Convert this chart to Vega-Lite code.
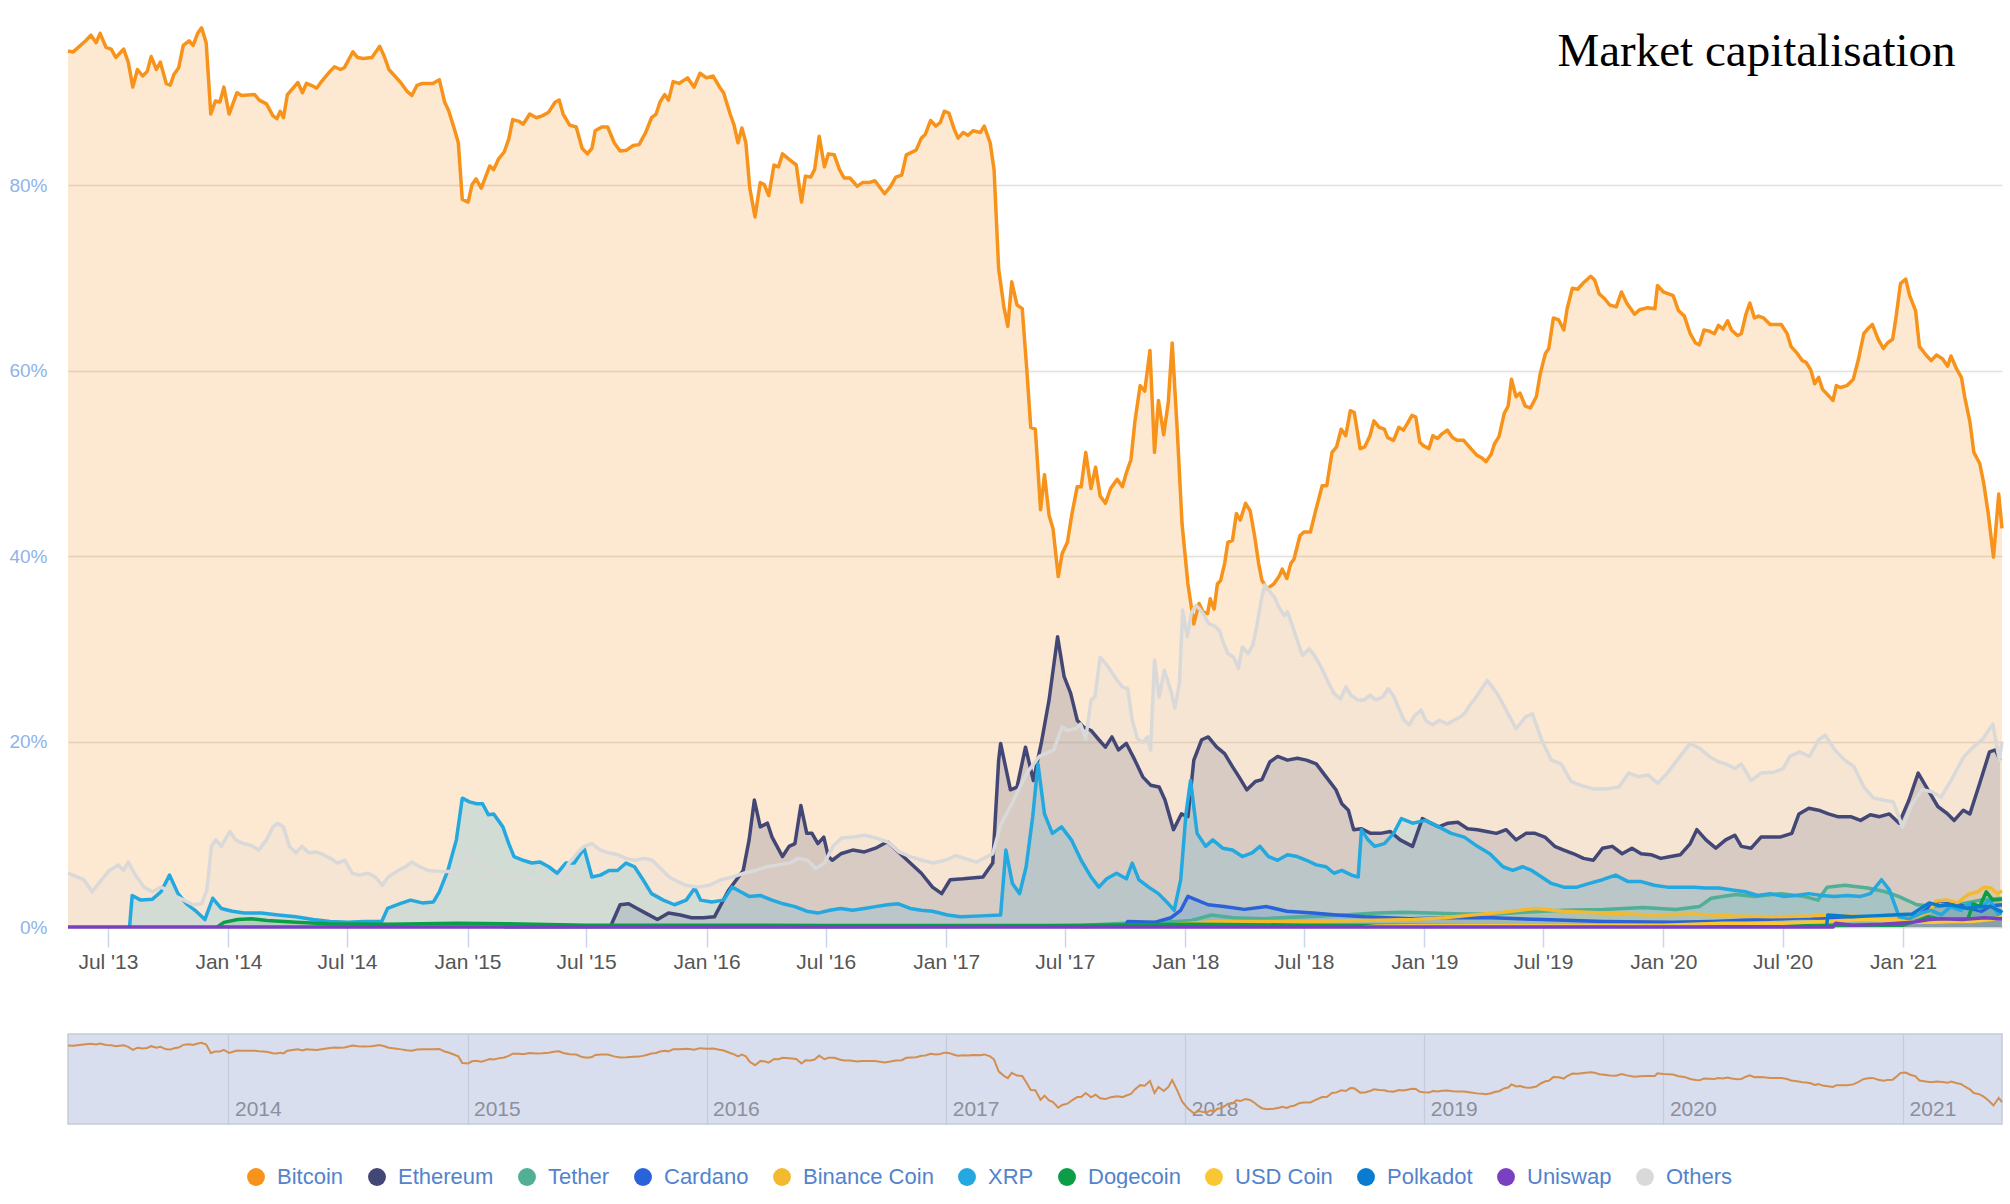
{
"$schema": "https://vega.github.io/schema/vega-lite/v6.json",
"background": "white",
"padding": {"left": 8, "top": 0, "right": 5, "bottom": 0},
"config": {
  "font": "Liberation Sans",
  "view": {"stroke": null},
  "axis": {"labelFont": "Liberation Sans"},
  "legend": {"labelFont": "Liberation Sans"}
},
"datasets": {
"mc": [
{"d":"2013-05-01","c":"Bitcoin","v":94.5},{"d":"2013-05-09","c":"Bitcoin","v":94.4},{"d":"2013-05-28","c":"Bitcoin","v":95.6},{"d":"2013-06-05","c":"Bitcoin","v":96.2},{"d":"2013-06-13","c":"Bitcoin","v":95.4},{"d":"2013-06-19","c":"Bitcoin","v":96.4},{"d":"2013-06-28","c":"Bitcoin","v":94.9},{"d":"2013-07-06","c":"Bitcoin","v":94.7},{"d":"2013-07-13","c":"Bitcoin","v":93.8},{"d":"2013-07-25","c":"Bitcoin","v":94.7},{"d":"2013-08-01","c":"Bitcoin","v":93.3},{"d":"2013-08-08","c":"Bitcoin","v":90.6},{"d":"2013-08-15","c":"Bitcoin","v":92.5},{"d":"2013-08-23","c":"Bitcoin","v":91.8},{"d":"2013-08-30","c":"Bitcoin","v":92.3},{"d":"2013-09-05","c":"Bitcoin","v":93.9},{"d":"2013-09-13","c":"Bitcoin","v":92.5},{"d":"2013-09-19","c":"Bitcoin","v":93.3},{"d":"2013-09-28","c":"Bitcoin","v":91.0},{"d":"2013-10-04","c":"Bitcoin","v":90.8},{"d":"2013-10-10","c":"Bitcoin","v":92.0},{"d":"2013-10-17","c":"Bitcoin","v":92.7},{"d":"2013-10-24","c":"Bitcoin","v":95.1},{"d":"2013-11-02","c":"Bitcoin","v":95.6},{"d":"2013-11-08","c":"Bitcoin","v":95.1},{"d":"2013-11-15","c":"Bitcoin","v":96.4},{"d":"2013-11-21","c":"Bitcoin","v":97.0},{"d":"2013-11-28","c":"Bitcoin","v":95.4},{"d":"2013-12-05","c":"Bitcoin","v":87.7},{"d":"2013-12-12","c":"Bitcoin","v":89.1},{"d":"2013-12-19","c":"Bitcoin","v":89.0},{"d":"2013-12-25","c":"Bitcoin","v":90.6},{"d":"2014-01-02","c":"Bitcoin","v":87.7},{"d":"2014-01-14","c":"Bitcoin","v":90.0},{"d":"2014-01-21","c":"Bitcoin","v":89.7},{"d":"2014-02-10","c":"Bitcoin","v":89.8},{"d":"2014-02-17","c":"Bitcoin","v":89.2},{"d":"2014-02-28","c":"Bitcoin","v":88.8},{"d":"2014-03-10","c":"Bitcoin","v":87.5},{"d":"2014-03-16","c":"Bitcoin","v":87.2},{"d":"2014-03-21","c":"Bitcoin","v":88.0},{"d":"2014-03-26","c":"Bitcoin","v":87.3},{"d":"2014-04-01","c":"Bitcoin","v":89.8},{"d":"2014-04-11","c":"Bitcoin","v":90.6},{"d":"2014-04-17","c":"Bitcoin","v":91.1},{"d":"2014-04-24","c":"Bitcoin","v":90.0},{"d":"2014-04-30","c":"Bitcoin","v":91.0},{"d":"2014-05-10","c":"Bitcoin","v":90.7},{"d":"2014-05-16","c":"Bitcoin","v":90.5},{"d":"2014-05-23","c":"Bitcoin","v":91.2},{"d":"2014-06-05","c":"Bitcoin","v":92.3},{"d":"2014-06-12","c":"Bitcoin","v":92.8},{"d":"2014-06-21","c":"Bitcoin","v":92.5},{"d":"2014-06-27","c":"Bitcoin","v":92.7},{"d":"2014-07-10","c":"Bitcoin","v":94.4},{"d":"2014-07-17","c":"Bitcoin","v":93.8},{"d":"2014-07-26","c":"Bitcoin","v":93.7},{"d":"2014-08-08","c":"Bitcoin","v":93.8},{"d":"2014-08-20","c":"Bitcoin","v":95.0},{"d":"2014-08-27","c":"Bitcoin","v":93.9},{"d":"2014-09-03","c":"Bitcoin","v":92.5},{"d":"2014-09-12","c":"Bitcoin","v":91.8},{"d":"2014-09-22","c":"Bitcoin","v":91.0},{"d":"2014-09-30","c":"Bitcoin","v":90.2},{"d":"2014-10-08","c":"Bitcoin","v":89.7},{"d":"2014-10-16","c":"Bitcoin","v":90.8},{"d":"2014-10-24","c":"Bitcoin","v":91.0},{"d":"2014-11-09","c":"Bitcoin","v":91.0},{"d":"2014-11-19","c":"Bitcoin","v":91.4},{"d":"2014-11-27","c":"Bitcoin","v":89.0},{"d":"2014-12-03","c":"Bitcoin","v":88.1},{"d":"2014-12-11","c":"Bitcoin","v":86.3},{"d":"2014-12-18","c":"Bitcoin","v":84.6},{"d":"2014-12-24","c":"Bitcoin","v":78.5},{"d":"2015-01-02","c":"Bitcoin","v":78.2},{"d":"2015-01-08","c":"Bitcoin","v":80.1},{"d":"2015-01-14","c":"Bitcoin","v":80.7},{"d":"2015-01-22","c":"Bitcoin","v":79.7},{"d":"2015-01-29","c":"Bitcoin","v":81.0},{"d":"2015-02-04","c":"Bitcoin","v":82.1},{"d":"2015-02-10","c":"Bitcoin","v":81.7},{"d":"2015-02-17","c":"Bitcoin","v":82.8},{"d":"2015-02-26","c":"Bitcoin","v":83.6},{"d":"2015-03-05","c":"Bitcoin","v":85.0},{"d":"2015-03-11","c":"Bitcoin","v":87.1},{"d":"2015-03-21","c":"Bitcoin","v":86.9},{"d":"2015-03-27","c":"Bitcoin","v":86.6},{"d":"2015-04-06","c":"Bitcoin","v":87.7},{"d":"2015-04-16","c":"Bitcoin","v":87.3},{"d":"2015-04-25","c":"Bitcoin","v":87.5},{"d":"2015-05-05","c":"Bitcoin","v":87.9},{"d":"2015-05-15","c":"Bitcoin","v":89.0},{"d":"2015-05-21","c":"Bitcoin","v":89.2},{"d":"2015-05-27","c":"Bitcoin","v":87.7},{"d":"2015-06-06","c":"Bitcoin","v":86.5},{"d":"2015-06-16","c":"Bitcoin","v":86.3},{"d":"2015-06-25","c":"Bitcoin","v":84.0},{"d":"2015-07-03","c":"Bitcoin","v":83.4},{"d":"2015-07-10","c":"Bitcoin","v":84.0},{"d":"2015-07-15","c":"Bitcoin","v":85.9},{"d":"2015-07-25","c":"Bitcoin","v":86.3},{"d":"2015-08-03","c":"Bitcoin","v":86.3},{"d":"2015-08-13","c":"Bitcoin","v":84.6},{"d":"2015-08-22","c":"Bitcoin","v":83.7},{"d":"2015-09-01","c":"Bitcoin","v":83.8},{"d":"2015-09-11","c":"Bitcoin","v":84.3},{"d":"2015-09-20","c":"Bitcoin","v":84.4},{"d":"2015-09-30","c":"Bitcoin","v":85.7},{"d":"2015-10-09","c":"Bitcoin","v":87.3},{"d":"2015-10-16","c":"Bitcoin","v":87.7},{"d":"2015-10-22","c":"Bitcoin","v":89.0},{"d":"2015-10-29","c":"Bitcoin","v":89.8},{"d":"2015-11-04","c":"Bitcoin","v":89.2},{"d":"2015-11-11","c":"Bitcoin","v":91.2},{"d":"2015-11-20","c":"Bitcoin","v":91.0},{"d":"2015-12-03","c":"Bitcoin","v":91.6},{"d":"2015-12-13","c":"Bitcoin","v":90.6},{"d":"2015-12-22","c":"Bitcoin","v":92.1},{"d":"2016-01-01","c":"Bitcoin","v":91.6},{"d":"2016-01-11","c":"Bitcoin","v":91.8},{"d":"2016-01-21","c":"Bitcoin","v":90.6},{"d":"2016-01-27","c":"Bitcoin","v":90.0},{"d":"2016-02-06","c":"Bitcoin","v":87.7},{"d":"2016-02-12","c":"Bitcoin","v":86.5},{"d":"2016-02-18","c":"Bitcoin","v":84.6},{"d":"2016-02-24","c":"Bitcoin","v":86.2},{"d":"2016-03-01","c":"Bitcoin","v":84.6},{"d":"2016-03-07","c":"Bitcoin","v":79.7},{"d":"2016-03-15","c":"Bitcoin","v":76.6},{"d":"2016-03-23","c":"Bitcoin","v":80.3},{"d":"2016-03-29","c":"Bitcoin","v":80.1},{"d":"2016-04-05","c":"Bitcoin","v":78.9},{"d":"2016-04-13","c":"Bitcoin","v":82.2},{"d":"2016-04-20","c":"Bitcoin","v":82.0},{"d":"2016-04-26","c":"Bitcoin","v":83.4},{"d":"2016-05-06","c":"Bitcoin","v":82.8},{"d":"2016-05-17","c":"Bitcoin","v":82.2},{"d":"2016-05-25","c":"Bitcoin","v":78.2},{"d":"2016-05-31","c":"Bitcoin","v":81.0},{"d":"2016-06-08","c":"Bitcoin","v":80.9},{"d":"2016-06-14","c":"Bitcoin","v":81.7},{"d":"2016-06-21","c":"Bitcoin","v":85.3},{"d":"2016-06-29","c":"Bitcoin","v":82.0},{"d":"2016-07-05","c":"Bitcoin","v":83.4},{"d":"2016-07-14","c":"Bitcoin","v":83.3},{"d":"2016-07-22","c":"Bitcoin","v":81.7},{"d":"2016-07-29","c":"Bitcoin","v":80.8},{"d":"2016-08-07","c":"Bitcoin","v":80.8},{"d":"2016-08-18","c":"Bitcoin","v":79.9},{"d":"2016-08-26","c":"Bitcoin","v":80.3},{"d":"2016-09-05","c":"Bitcoin","v":80.3},{"d":"2016-09-14","c":"Bitcoin","v":80.5},{"d":"2016-09-29","c":"Bitcoin","v":79.1},{"d":"2016-10-08","c":"Bitcoin","v":79.9},{"d":"2016-10-16","c":"Bitcoin","v":80.9},{"d":"2016-10-25","c":"Bitcoin","v":81.1},{"d":"2016-11-01","c":"Bitcoin","v":83.3},{"d":"2016-11-16","c":"Bitcoin","v":83.8},{"d":"2016-11-24","c":"Bitcoin","v":85.1},{"d":"2016-11-30","c":"Bitcoin","v":85.5},{"d":"2016-12-08","c":"Bitcoin","v":87.0},{"d":"2016-12-16","c":"Bitcoin","v":86.4},{"d":"2016-12-23","c":"Bitcoin","v":86.8},{"d":"2016-12-29","c":"Bitcoin","v":88.0},{"d":"2017-01-05","c":"Bitcoin","v":87.8},{"d":"2017-01-13","c":"Bitcoin","v":86.1},{"d":"2017-01-19","c":"Bitcoin","v":85.1},{"d":"2017-01-27","c":"Bitcoin","v":85.7},{"d":"2017-02-03","c":"Bitcoin","v":85.4},{"d":"2017-02-11","c":"Bitcoin","v":85.9},{"d":"2017-02-22","c":"Bitcoin","v":85.7},{"d":"2017-02-28","c":"Bitcoin","v":86.4},{"d":"2017-03-09","c":"Bitcoin","v":84.6},{"d":"2017-03-15","c":"Bitcoin","v":81.7},{"d":"2017-03-22","c":"Bitcoin","v":71.0},{"d":"2017-03-30","c":"Bitcoin","v":66.9},{"d":"2017-04-05","c":"Bitcoin","v":64.8},{"d":"2017-04-11","c":"Bitcoin","v":69.6},{"d":"2017-04-19","c":"Bitcoin","v":67.1},{"d":"2017-04-27","c":"Bitcoin","v":66.7},{"d":"2017-05-04","c":"Bitcoin","v":60.1},{"d":"2017-05-10","c":"Bitcoin","v":53.9},{"d":"2017-05-17","c":"Bitcoin","v":53.7},{"d":"2017-05-25","c":"Bitcoin","v":45.0},{"d":"2017-05-31","c":"Bitcoin","v":48.8},{"d":"2017-06-07","c":"Bitcoin","v":44.4},{"d":"2017-06-13","c":"Bitcoin","v":43.0},{"d":"2017-06-21","c":"Bitcoin","v":37.8},{"d":"2017-06-27","c":"Bitcoin","v":40.3},{"d":"2017-07-05","c":"Bitcoin","v":41.5},{"d":"2017-07-12","c":"Bitcoin","v":44.6},{"d":"2017-07-20","c":"Bitcoin","v":47.5},{"d":"2017-07-26","c":"Bitcoin","v":47.5},{"d":"2017-08-02","c":"Bitcoin","v":51.2},{"d":"2017-08-10","c":"Bitcoin","v":47.3},{"d":"2017-08-17","c":"Bitcoin","v":49.6},{"d":"2017-08-24","c":"Bitcoin","v":46.5},{"d":"2017-09-01","c":"Bitcoin","v":45.7},{"d":"2017-09-09","c":"Bitcoin","v":47.3},{"d":"2017-09-19","c":"Bitcoin","v":48.3},{"d":"2017-09-27","c":"Bitcoin","v":47.5},{"d":"2017-10-03","c":"Bitcoin","v":49.0},{"d":"2017-10-10","c":"Bitcoin","v":50.4},{"d":"2017-10-16","c":"Bitcoin","v":54.5},{"d":"2017-10-24","c":"Bitcoin","v":58.4},{"d":"2017-10-31","c":"Bitcoin","v":57.8},{"d":"2017-11-08","c":"Bitcoin","v":62.2},{"d":"2017-11-15","c":"Bitcoin","v":51.2},{"d":"2017-11-21","c":"Bitcoin","v":56.8},{"d":"2017-11-29","c":"Bitcoin","v":53.1},{"d":"2017-12-06","c":"Bitcoin","v":56.6},{"d":"2017-12-12","c":"Bitcoin","v":63.0},{"d":"2017-12-20","c":"Bitcoin","v":53.2},{"d":"2017-12-27","c":"Bitcoin","v":43.5},{"d":"2018-01-05","c":"Bitcoin","v":37.0},{"d":"2018-01-14","c":"Bitcoin","v":32.7},{"d":"2018-01-22","c":"Bitcoin","v":34.9},{"d":"2018-01-28","c":"Bitcoin","v":34.0},{"d":"2018-02-04","c":"Bitcoin","v":33.8},{"d":"2018-02-08","c":"Bitcoin","v":35.4},{"d":"2018-02-14","c":"Bitcoin","v":34.3},{"d":"2018-02-19","c":"Bitcoin","v":37.0},{"d":"2018-02-24","c":"Bitcoin","v":37.4},{"d":"2018-03-02","c":"Bitcoin","v":39.2},{"d":"2018-03-07","c":"Bitcoin","v":41.5},{"d":"2018-03-14","c":"Bitcoin","v":41.7},{"d":"2018-03-20","c":"Bitcoin","v":44.6},{"d":"2018-03-26","c":"Bitcoin","v":43.9},{"d":"2018-04-03","c":"Bitcoin","v":45.7},{"d":"2018-04-10","c":"Bitcoin","v":44.9},{"d":"2018-04-17","c":"Bitcoin","v":42.1},{"d":"2018-04-23","c":"Bitcoin","v":39.2},{"d":"2018-04-28","c":"Bitcoin","v":37.4},{"d":"2018-05-06","c":"Bitcoin","v":36.5},{"d":"2018-05-16","c":"Bitcoin","v":37.0},{"d":"2018-05-24","c":"Bitcoin","v":37.8},{"d":"2018-05-29","c":"Bitcoin","v":38.6},{"d":"2018-06-05","c":"Bitcoin","v":37.6},{"d":"2018-06-11","c":"Bitcoin","v":39.2},{"d":"2018-06-16","c":"Bitcoin","v":39.7},{"d":"2018-06-25","c":"Bitcoin","v":42.2},{"d":"2018-07-01","c":"Bitcoin","v":42.6},{"d":"2018-07-11","c":"Bitcoin","v":42.6},{"d":"2018-07-19","c":"Bitcoin","v":44.9},{"d":"2018-07-29","c":"Bitcoin","v":47.6},{"d":"2018-08-05","c":"Bitcoin","v":47.6},{"d":"2018-08-13","c":"Bitcoin","v":51.2},{"d":"2018-08-20","c":"Bitcoin","v":51.8},{"d":"2018-08-27","c":"Bitcoin","v":53.7},{"d":"2018-09-03","c":"Bitcoin","v":53.0},{"d":"2018-09-10","c":"Bitcoin","v":55.7},{"d":"2018-09-16","c":"Bitcoin","v":55.5},{"d":"2018-09-25","c":"Bitcoin","v":51.6},{"d":"2018-10-02","c":"Bitcoin","v":51.8},{"d":"2018-10-10","c":"Bitcoin","v":53.0},{"d":"2018-10-16","c":"Bitcoin","v":54.6},{"d":"2018-10-24","c":"Bitcoin","v":53.9},{"d":"2018-11-01","c":"Bitcoin","v":53.7},{"d":"2018-11-06","c":"Bitcoin","v":52.8},{"d":"2018-11-15","c":"Bitcoin","v":52.5},{"d":"2018-11-23","c":"Bitcoin","v":53.9},{"d":"2018-11-30","c":"Bitcoin","v":53.6},{"d":"2018-12-06","c":"Bitcoin","v":54.3},{"d":"2018-12-13","c":"Bitcoin","v":55.2},{"d":"2018-12-19","c":"Bitcoin","v":55.0},{"d":"2018-12-25","c":"Bitcoin","v":52.3},{"d":"2018-12-31","c":"Bitcoin","v":51.9},{"d":"2019-01-08","c":"Bitcoin","v":51.6},{"d":"2019-01-14","c":"Bitcoin","v":53.0},{"d":"2019-01-21","c":"Bitcoin","v":52.7},{"d":"2019-01-28","c":"Bitcoin","v":53.2},{"d":"2019-02-05","c":"Bitcoin","v":53.6},{"d":"2019-02-13","c":"Bitcoin","v":52.8},{"d":"2019-02-20","c":"Bitcoin","v":52.5},{"d":"2019-03-02","c":"Bitcoin","v":52.5},{"d":"2019-03-13","c":"Bitcoin","v":51.6},{"d":"2019-03-22","c":"Bitcoin","v":50.9},{"d":"2019-03-30","c":"Bitcoin","v":50.6},{"d":"2019-04-05","c":"Bitcoin","v":50.2},{"d":"2019-04-13","c":"Bitcoin","v":51.0},{"d":"2019-04-18","c":"Bitcoin","v":52.1},{"d":"2019-04-25","c":"Bitcoin","v":52.9},{"d":"2019-05-03","c":"Bitcoin","v":55.4},{"d":"2019-05-09","c":"Bitcoin","v":56.2},{"d":"2019-05-14","c":"Bitcoin","v":59.1},{"d":"2019-05-21","c":"Bitcoin","v":57.2},{"d":"2019-05-27","c":"Bitcoin","v":57.6},{"d":"2019-06-04","c":"Bitcoin","v":56.2},{"d":"2019-06-12","c":"Bitcoin","v":56.0},{"d":"2019-06-21","c":"Bitcoin","v":57.2},{"d":"2019-06-27","c":"Bitcoin","v":59.7},{"d":"2019-07-05","c":"Bitcoin","v":61.9},{"d":"2019-07-10","c":"Bitcoin","v":62.4},{"d":"2019-07-17","c":"Bitcoin","v":65.7},{"d":"2019-07-25","c":"Bitcoin","v":65.5},{"d":"2019-08-02","c":"Bitcoin","v":64.4},{"d":"2019-08-07","c":"Bitcoin","v":66.7},{"d":"2019-08-15","c":"Bitcoin","v":68.9},{"d":"2019-08-23","c":"Bitcoin","v":68.8},{"d":"2019-09-01","c":"Bitcoin","v":69.5},{"d":"2019-09-12","c":"Bitcoin","v":70.2},{"d":"2019-09-18","c":"Bitcoin","v":69.8},{"d":"2019-09-25","c":"Bitcoin","v":68.3},{"d":"2019-10-03","c":"Bitcoin","v":67.8},{"d":"2019-10-11","c":"Bitcoin","v":67.1},{"d":"2019-10-21","c":"Bitcoin","v":66.9},{"d":"2019-10-29","c":"Bitcoin","v":68.5},{"d":"2019-11-06","c":"Bitcoin","v":67.3},{"d":"2019-11-18","c":"Bitcoin","v":66.1},{"d":"2019-11-26","c":"Bitcoin","v":66.6},{"d":"2019-12-08","c":"Bitcoin","v":66.8},{"d":"2019-12-19","c":"Bitcoin","v":66.7},{"d":"2019-12-23","c":"Bitcoin","v":69.2},{"d":"2020-01-01","c":"Bitcoin","v":68.5},{"d":"2020-01-09","c":"Bitcoin","v":68.3},{"d":"2020-01-16","c":"Bitcoin","v":68.1},{"d":"2020-01-24","c":"Bitcoin","v":66.5},{"d":"2020-02-02","c":"Bitcoin","v":65.9},{"d":"2020-02-11","c":"Bitcoin","v":64.0},{"d":"2020-02-19","c":"Bitcoin","v":63.0},{"d":"2020-02-25","c":"Bitcoin","v":62.8},{"d":"2020-03-03","c":"Bitcoin","v":64.4},{"d":"2020-03-10","c":"Bitcoin","v":64.3},{"d":"2020-03-19","c":"Bitcoin","v":64.0},{"d":"2020-03-25","c":"Bitcoin","v":64.9},{"d":"2020-04-01","c":"Bitcoin","v":64.5},{"d":"2020-04-08","c":"Bitcoin","v":65.4},{"d":"2020-04-14","c":"Bitcoin","v":64.4},{"d":"2020-04-23","c":"Bitcoin","v":63.8},{"d":"2020-04-29","c":"Bitcoin","v":64.0},{"d":"2020-05-06","c":"Bitcoin","v":66.1},{"d":"2020-05-12","c":"Bitcoin","v":67.3},{"d":"2020-05-19","c":"Bitcoin","v":65.7},{"d":"2020-05-25","c":"Bitcoin","v":65.9},{"d":"2020-06-02","c":"Bitcoin","v":65.7},{"d":"2020-06-12","c":"Bitcoin","v":65.0},{"d":"2020-06-22","c":"Bitcoin","v":65.0},{"d":"2020-06-29","c":"Bitcoin","v":65.0},{"d":"2020-07-08","c":"Bitcoin","v":64.0},{"d":"2020-07-14","c":"Bitcoin","v":62.6},{"d":"2020-07-23","c":"Bitcoin","v":61.9},{"d":"2020-07-31","c":"Bitcoin","v":61.1},{"d":"2020-08-06","c":"Bitcoin","v":60.9},{"d":"2020-08-13","c":"Bitcoin","v":60.1},{"d":"2020-08-19","c":"Bitcoin","v":58.6},{"d":"2020-08-25","c":"Bitcoin","v":59.3},{"d":"2020-08-31","c":"Bitcoin","v":58.0},{"d":"2020-09-08","c":"Bitcoin","v":57.4},{"d":"2020-09-16","c":"Bitcoin","v":56.8},{"d":"2020-09-21","c":"Bitcoin","v":58.4},{"d":"2020-09-27","c":"Bitcoin","v":58.2},{"d":"2020-10-07","c":"Bitcoin","v":58.4},{"d":"2020-10-17","c":"Bitcoin","v":59.1},{"d":"2020-10-25","c":"Bitcoin","v":61.3},{"d":"2020-11-02","c":"Bitcoin","v":64.0},{"d":"2020-11-09","c":"Bitcoin","v":64.6},{"d":"2020-11-15","c":"Bitcoin","v":65.0},{"d":"2020-11-24","c":"Bitcoin","v":63.4},{"d":"2020-12-02","c":"Bitcoin","v":62.4},{"d":"2020-12-08","c":"Bitcoin","v":63.0},{"d":"2020-12-16","c":"Bitcoin","v":63.4},{"d":"2020-12-21","c":"Bitcoin","v":65.7},{"d":"2020-12-28","c":"Bitcoin","v":69.4},{"d":"2021-01-05","c":"Bitcoin","v":69.9},{"d":"2021-01-11","c":"Bitcoin","v":68.1},{"d":"2021-01-20","c":"Bitcoin","v":66.5},{"d":"2021-01-26","c":"Bitcoin","v":62.6},{"d":"2021-02-05","c":"Bitcoin","v":61.7},{"d":"2021-02-13","c":"Bitcoin","v":61.1},{"d":"2021-02-21","c":"Bitcoin","v":61.7},{"d":"2021-03-02","c":"Bitcoin","v":61.3},{"d":"2021-03-10","c":"Bitcoin","v":60.5},{"d":"2021-03-15","c":"Bitcoin","v":61.6},{"d":"2021-03-23","c":"Bitcoin","v":60.3},{"d":"2021-03-31","c":"Bitcoin","v":59.3},{"d":"2021-04-05","c":"Bitcoin","v":57.2},{"d":"2021-04-13","c":"Bitcoin","v":54.5},{"d":"2021-04-19","c":"Bitcoin","v":51.2},{"d":"2021-04-28","c":"Bitcoin","v":50.0},{"d":"2021-05-04","c":"Bitcoin","v":47.9},{"d":"2021-05-11","c":"Bitcoin","v":44.6},{"d":"2021-05-19","c":"Bitcoin","v":39.9},{"d":"2021-05-27","c":"Bitcoin","v":46.7},{"d":"2021-06-01","c":"Bitcoin","v":43.0},

{"d":"2015-08-07","c":"Ethereum","v":0},{"d":"2015-08-22","c":"Ethereum","v":2.4},{"d":"2015-09-04","c":"Ethereum","v":2.5},{"d":"2015-09-17","c":"Ethereum","v":2.0},{"d":"2015-09-30","c":"Ethereum","v":1.5},{"d":"2015-10-18","c":"Ethereum","v":0.8},{"d":"2015-11-04","c":"Ethereum","v":1.5},{"d":"2015-11-22","c":"Ethereum","v":1.3},{"d":"2015-12-09","c":"Ethereum","v":1.0},{"d":"2015-12-27","c":"Ethereum","v":1.0},{"d":"2016-01-13","c":"Ethereum","v":1.1},{"d":"2016-02-04","c":"Ethereum","v":4.0},{"d":"2016-02-26","c":"Ethereum","v":6.1},{"d":"2016-03-06","c":"Ethereum","v":9.4},{"d":"2016-03-14","c":"Ethereum","v":13.7},{"d":"2016-03-23","c":"Ethereum","v":10.8},{"d":"2016-04-03","c":"Ethereum","v":11.2},{"d":"2016-04-10","c":"Ethereum","v":9.7},{"d":"2016-04-26","c":"Ethereum","v":7.6},{"d":"2016-05-06","c":"Ethereum","v":8.7},{"d":"2016-05-15","c":"Ethereum","v":9.0},{"d":"2016-05-24","c":"Ethereum","v":13.1},{"d":"2016-06-02","c":"Ethereum","v":10.1},{"d":"2016-06-10","c":"Ethereum","v":10.1},{"d":"2016-06-19","c":"Ethereum","v":9.0},{"d":"2016-06-28","c":"Ethereum","v":9.7},{"d":"2016-07-05","c":"Ethereum","v":7.6},{"d":"2016-07-11","c":"Ethereum","v":7.2},{"d":"2016-07-24","c":"Ethereum","v":7.9},{"d":"2016-08-11","c":"Ethereum","v":8.3},{"d":"2016-08-29","c":"Ethereum","v":8.1},{"d":"2016-09-15","c":"Ethereum","v":8.5},{"d":"2016-10-03","c":"Ethereum","v":9.2},{"d":"2016-10-20","c":"Ethereum","v":8.1},{"d":"2016-11-07","c":"Ethereum","v":6.9},{"d":"2016-11-24","c":"Ethereum","v":5.8},{"d":"2016-12-11","c":"Ethereum","v":4.3},{"d":"2016-12-25","c":"Ethereum","v":3.6},{"d":"2017-01-07","c":"Ethereum","v":5.1},{"d":"2017-01-27","c":"Ethereum","v":5.2},{"d":"2017-02-26","c":"Ethereum","v":5.4},{"d":"2017-03-13","c":"Ethereum","v":6.9},{"d":"2017-03-22","c":"Ethereum","v":18.0},{"d":"2017-03-25","c":"Ethereum","v":19.8},{"d":"2017-04-09","c":"Ethereum","v":14.8},{"d":"2017-04-19","c":"Ethereum","v":15.1},{"d":"2017-05-02","c":"Ethereum","v":19.4},{"d":"2017-05-14","c":"Ethereum","v":15.8},{"d":"2017-05-26","c":"Ethereum","v":19.8},{"d":"2017-06-07","c":"Ethereum","v":24.5},{"d":"2017-06-20","c":"Ethereum","v":31.3},{"d":"2017-06-30","c":"Ethereum","v":27.0},{"d":"2017-07-10","c":"Ethereum","v":25.2},{"d":"2017-07-20","c":"Ethereum","v":22.3},{"d":"2017-07-29","c":"Ethereum","v":21.6},{"d":"2017-08-10","c":"Ethereum","v":21.2},{"d":"2017-08-22","c":"Ethereum","v":20.2},{"d":"2017-09-01","c":"Ethereum","v":19.4},{"d":"2017-09-11","c":"Ethereum","v":20.5},{"d":"2017-09-21","c":"Ethereum","v":19.1},{"d":"2017-10-03","c":"Ethereum","v":19.8},{"d":"2017-10-16","c":"Ethereum","v":18.0},{"d":"2017-10-28","c":"Ethereum","v":16.2},{"d":"2017-11-09","c":"Ethereum","v":15.3},{"d":"2017-11-22","c":"Ethereum","v":15.1},{"d":"2017-12-01","c":"Ethereum","v":13.7},{"d":"2017-12-14","c":"Ethereum","v":10.5},{"d":"2017-12-26","c":"Ethereum","v":12.2},{"d":"2018-01-05","c":"Ethereum","v":11.9},{"d":"2018-01-14","c":"Ethereum","v":18.0},{"d":"2018-01-26","c":"Ethereum","v":20.2},{"d":"2018-02-05","c":"Ethereum","v":20.5},{"d":"2018-02-18","c":"Ethereum","v":19.4},{"d":"2018-03-02","c":"Ethereum","v":18.7},{"d":"2018-03-14","c":"Ethereum","v":17.3},{"d":"2018-03-24","c":"Ethereum","v":16.2},{"d":"2018-04-05","c":"Ethereum","v":14.8},{"d":"2018-04-18","c":"Ethereum","v":15.7},{"d":"2018-04-28","c":"Ethereum","v":15.9},{"d":"2018-05-10","c":"Ethereum","v":17.8},{"d":"2018-05-22","c":"Ethereum","v":18.4},{"d":"2018-06-06","c":"Ethereum","v":18.0},{"d":"2018-06-21","c":"Ethereum","v":18.2},{"d":"2018-07-05","c":"Ethereum","v":18.0},{"d":"2018-07-20","c":"Ethereum","v":17.6},{"d":"2018-08-04","c":"Ethereum","v":16.2},{"d":"2018-08-19","c":"Ethereum","v":14.8},{"d":"2018-08-28","c":"Ethereum","v":13.3},{"d":"2018-09-07","c":"Ethereum","v":12.6},{"d":"2018-09-15","c":"Ethereum","v":10.5},{"d":"2018-09-27","c":"Ethereum","v":10.6},{"d":"2018-10-11","c":"Ethereum","v":10.1},{"d":"2018-10-26","c":"Ethereum","v":10.1},{"d":"2018-11-10","c":"Ethereum","v":10.3},{"d":"2018-11-25","c":"Ethereum","v":9.4},{"d":"2018-12-14","c":"Ethereum","v":8.7},{"d":"2018-12-29","c":"Ethereum","v":11.7},{"d":"2019-01-11","c":"Ethereum","v":11.2},{"d":"2019-01-23","c":"Ethereum","v":10.8},{"d":"2019-02-06","c":"Ethereum","v":11.2},{"d":"2019-02-21","c":"Ethereum","v":11.3},{"d":"2019-03-08","c":"Ethereum","v":10.6},{"d":"2019-03-23","c":"Ethereum","v":10.5},{"d":"2019-04-06","c":"Ethereum","v":10.3},{"d":"2019-04-21","c":"Ethereum","v":10.1},{"d":"2019-05-06","c":"Ethereum","v":10.5},{"d":"2019-05-21","c":"Ethereum","v":9.4},{"d":"2019-06-05","c":"Ethereum","v":10.1},{"d":"2019-06-19","c":"Ethereum","v":10.1},{"d":"2019-07-04","c":"Ethereum","v":9.7},{"d":"2019-07-19","c":"Ethereum","v":8.7},{"d":"2019-08-02","c":"Ethereum","v":8.3},{"d":"2019-08-17","c":"Ethereum","v":7.9},{"d":"2019-09-01","c":"Ethereum","v":7.4},{"d":"2019-09-16","c":"Ethereum","v":7.2},{"d":"2019-09-30","c":"Ethereum","v":8.5},{"d":"2019-10-15","c":"Ethereum","v":8.7},{"d":"2019-10-30","c":"Ethereum","v":7.9},{"d":"2019-11-14","c":"Ethereum","v":8.5},{"d":"2019-11-28","c":"Ethereum","v":7.9},{"d":"2019-12-13","c":"Ethereum","v":7.8},{"d":"2019-12-28","c":"Ethereum","v":7.4},{"d":"2020-01-12","c":"Ethereum","v":7.6},{"d":"2020-01-27","c":"Ethereum","v":7.8},{"d":"2020-02-11","c":"Ethereum","v":9.0},{"d":"2020-02-21","c":"Ethereum","v":10.5},{"d":"2020-03-06","c":"Ethereum","v":9.4},{"d":"2020-03-21","c":"Ethereum","v":8.5},{"d":"2020-04-05","c":"Ethereum","v":9.4},{"d":"2020-04-19","c":"Ethereum","v":9.9},{"d":"2020-04-29","c":"Ethereum","v":8.7},{"d":"2020-05-14","c":"Ethereum","v":8.5},{"d":"2020-05-29","c":"Ethereum","v":9.7},{"d":"2020-06-12","c":"Ethereum","v":9.7},{"d":"2020-06-27","c":"Ethereum","v":9.7},{"d":"2020-07-15","c":"Ethereum","v":10.1},{"d":"2020-07-26","c":"Ethereum","v":12.2},{"d":"2020-08-10","c":"Ethereum","v":12.8},{"d":"2020-08-25","c":"Ethereum","v":12.6},{"d":"2020-09-09","c":"Ethereum","v":12.2},{"d":"2020-09-23","c":"Ethereum","v":11.9},{"d":"2020-10-13","c":"Ethereum","v":11.9},{"d":"2020-10-28","c":"Ethereum","v":11.5},{"d":"2020-11-12","c":"Ethereum","v":12.1},{"d":"2020-11-26","c":"Ethereum","v":11.9},{"d":"2020-12-11","c":"Ethereum","v":12.2},{"d":"2020-12-26","c":"Ethereum","v":11.2},{"d":"2021-01-10","c":"Ethereum","v":13.7},{"d":"2021-01-24","c":"Ethereum","v":16.6},{"d":"2021-02-08","c":"Ethereum","v":14.8},{"d":"2021-02-23","c":"Ethereum","v":13.0},{"d":"2021-03-10","c":"Ethereum","v":12.2},{"d":"2021-03-20","c":"Ethereum","v":11.5},{"d":"2021-04-03","c":"Ethereum","v":12.6},{"d":"2021-04-13","c":"Ethereum","v":12.2},{"d":"2021-04-28","c":"Ethereum","v":15.5},{"d":"2021-05-13","c":"Ethereum","v":18.9},{"d":"2021-05-22","c":"Ethereum","v":19.1},{"d":"2021-05-29","c":"Ethereum","v":18.0},

{"d":"2015-02-25","c":"Tether","v":0},{"d":"2016-06-01","c":"Tether","v":0.03},{"d":"2017-01-01","c":"Tether","v":0.05},{"d":"2017-05-01","c":"Tether","v":0.1},{"d":"2017-08-01","c":"Tether","v":0.2},{"d":"2017-10-01","c":"Tether","v":0.4},{"d":"2017-12-01","c":"Tether","v":0.5},{"d":"2018-01-10","c":"Tether","v":0.7},{"d":"2018-02-10","c":"Tether","v":1.3},{"d":"2018-03-15","c":"Tether","v":1.0},{"d":"2018-05-01","c":"Tether","v":0.9},{"d":"2018-07-01","c":"Tether","v":1.1},{"d":"2018-09-01","c":"Tether","v":1.3},{"d":"2018-10-20","c":"Tether","v":1.5},{"d":"2018-12-01","c":"Tether","v":1.6},{"d":"2019-01-10","c":"Tether","v":1.5},{"d":"2019-03-01","c":"Tether","v":1.4},{"d":"2019-04-20","c":"Tether","v":1.4},{"d":"2019-06-01","c":"Tether","v":1.6},{"d":"2019-08-01","c":"Tether","v":1.8},{"d":"2019-10-01","c":"Tether","v":1.9},{"d":"2019-12-01","c":"Tether","v":2.1},{"d":"2020-01-20","c":"Tether","v":1.9},{"d":"2020-02-25","c":"Tether","v":2.2},{"d":"2020-03-14","c":"Tether","v":3.1},{"d":"2020-03-31","c":"Tether","v":3.3},{"d":"2020-04-21","c":"Tether","v":3.5},{"d":"2020-05-19","c":"Tether","v":3.3},{"d":"2020-06-29","c":"Tether","v":3.6},{"d":"2020-08-03","c":"Tether","v":3.3},{"d":"2020-08-24","c":"Tether","v":2.9},{"d":"2020-09-07","c":"Tether","v":4.3},{"d":"2020-10-04","c":"Tether","v":4.5},{"d":"2020-11-08","c":"Tether","v":4.2},{"d":"2020-12-05","c":"Tether","v":3.8},{"d":"2020-12-25","c":"Tether","v":3.3},{"d":"2021-01-22","c":"Tether","v":2.4},{"d":"2021-02-18","c":"Tether","v":2.2},{"d":"2021-03-25","c":"Tether","v":2.4},{"d":"2021-04-29","c":"Tether","v":2.9},{"d":"2021-06-01","c":"Tether","v":3.1},

{"d":"2017-10-01","c":"Cardano","v":0},{"d":"2017-10-05","c":"Cardano","v":0.6},{"d":"2017-11-15","c":"Cardano","v":0.5},{"d":"2017-12-10","c":"Cardano","v":1.0},{"d":"2017-12-25","c":"Cardano","v":1.8},{"d":"2018-01-05","c":"Cardano","v":3.3},{"d":"2018-01-15","c":"Cardano","v":3.0},{"d":"2018-02-05","c":"Cardano","v":2.4},{"d":"2018-03-01","c":"Cardano","v":2.2},{"d":"2018-04-01","c":"Cardano","v":1.9},{"d":"2018-05-05","c":"Cardano","v":2.2},{"d":"2018-06-05","c":"Cardano","v":1.7},{"d":"2018-07-15","c":"Cardano","v":1.5},{"d":"2018-08-20","c":"Cardano","v":1.3},{"d":"2018-10-01","c":"Cardano","v":1.1},{"d":"2018-12-10","c":"Cardano","v":0.9},{"d":"2019-02-01","c":"Cardano","v":1.0},{"d":"2019-04-15","c":"Cardano","v":1.0},{"d":"2019-07-01","c":"Cardano","v":0.8},{"d":"2019-10-01","c":"Cardano","v":0.6},{"d":"2020-01-15","c":"Cardano","v":0.5},{"d":"2020-03-15","c":"Cardano","v":0.6},{"d":"2020-06-01","c":"Cardano","v":0.8},{"d":"2020-08-01","c":"Cardano","v":1.0},{"d":"2020-10-01","c":"Cardano","v":0.9},{"d":"2020-12-01","c":"Cardano","v":0.9},{"d":"2021-01-10","c":"Cardano","v":0.9},{"d":"2021-01-25","c":"Cardano","v":1.3},{"d":"2021-02-15","c":"Cardano","v":2.4},{"d":"2021-02-25","c":"Cardano","v":2.8},{"d":"2021-03-15","c":"Cardano","v":2.6},{"d":"2021-04-01","c":"Cardano","v":2.3},{"d":"2021-04-15","c":"Cardano","v":2.0},{"d":"2021-05-01","c":"Cardano","v":1.7},{"d":"2021-05-15","c":"Cardano","v":2.3},{"d":"2021-06-01","c":"Cardano","v":2.4},

{"d":"2017-07-25","c":"Binance Coin","v":0},{"d":"2017-09-01","c":"Binance Coin","v":0.1},{"d":"2017-12-01","c":"Binance Coin","v":0.2},{"d":"2018-01-10","c":"Binance Coin","v":0.4},{"d":"2018-02-15","c":"Binance Coin","v":0.6},{"d":"2018-04-01","c":"Binance Coin","v":0.6},{"d":"2018-07-01","c":"Binance Coin","v":0.6},{"d":"2018-10-01","c":"Binance Coin","v":0.7},{"d":"2018-12-15","c":"Binance Coin","v":0.8},{"d":"2019-02-01","c":"Binance Coin","v":1.0},{"d":"2019-03-15","c":"Binance Coin","v":1.3},{"d":"2019-05-01","c":"Binance Coin","v":1.6},{"d":"2019-06-20","c":"Binance Coin","v":2.0},{"d":"2019-08-01","c":"Binance Coin","v":1.7},{"d":"2019-10-01","c":"Binance Coin","v":1.5},{"d":"2019-12-15","c":"Binance Coin","v":1.3},{"d":"2020-02-15","c":"Binance Coin","v":1.4},{"d":"2020-04-15","c":"Binance Coin","v":1.2},{"d":"2020-06-15","c":"Binance Coin","v":1.1},{"d":"2020-08-15","c":"Binance Coin","v":1.2},{"d":"2020-09-15","c":"Binance Coin","v":1.3},{"d":"2020-11-01","c":"Binance Coin","v":1.1},{"d":"2020-12-15","c":"Binance Coin","v":0.9},{"d":"2021-01-15","c":"Binance Coin","v":1.0},{"d":"2021-02-10","c":"Binance Coin","v":1.6},{"d":"2021-02-20","c":"Binance Coin","v":2.8},{"d":"2021-03-10","c":"Binance Coin","v":2.9},{"d":"2021-03-25","c":"Binance Coin","v":2.6},{"d":"2021-04-10","c":"Binance Coin","v":3.5},{"d":"2021-04-25","c":"Binance Coin","v":3.8},{"d":"2021-05-05","c":"Binance Coin","v":4.3},{"d":"2021-05-15","c":"Binance Coin","v":4.2},{"d":"2021-05-25","c":"Binance Coin","v":3.6},{"d":"2021-06-01","c":"Binance Coin","v":3.9},

{"d":"2013-08-03","c":"XRP","v":0},{"d":"2013-08-07","c":"XRP","v":3.4},{"d":"2013-08-20","c":"XRP","v":2.9},{"d":"2013-09-07","c":"XRP","v":3.0},{"d":"2013-09-20","c":"XRP","v":3.8},{"d":"2013-10-03","c":"XRP","v":5.6},{"d":"2013-10-16","c":"XRP","v":3.6},{"d":"2013-10-29","c":"XRP","v":2.5},{"d":"2013-11-11","c":"XRP","v":1.8},{"d":"2013-11-26","c":"XRP","v":0.8},{"d":"2013-12-08","c":"XRP","v":3.1},{"d":"2013-12-21","c":"XRP","v":2.0},{"d":"2014-01-07","c":"XRP","v":1.7},{"d":"2014-01-25","c":"XRP","v":1.5},{"d":"2014-02-20","c":"XRP","v":1.5},{"d":"2014-03-18","c":"XRP","v":1.3},{"d":"2014-04-14","c":"XRP","v":1.1},{"d":"2014-05-10","c":"XRP","v":0.8},{"d":"2014-06-05","c":"XRP","v":0.6},{"d":"2014-07-02","c":"XRP","v":0.5},{"d":"2014-07-28","c":"XRP","v":0.6},{"d":"2014-08-23","c":"XRP","v":0.6},{"d":"2014-09-01","c":"XRP","v":2.0},{"d":"2014-09-19","c":"XRP","v":2.5},{"d":"2014-10-06","c":"XRP","v":2.9},{"d":"2014-10-24","c":"XRP","v":2.6},{"d":"2014-11-10","c":"XRP","v":2.7},{"d":"2014-11-19","c":"XRP","v":3.8},{"d":"2014-12-02","c":"XRP","v":6.1},{"d":"2014-12-15","c":"XRP","v":9.4},{"d":"2014-12-24","c":"XRP","v":13.9},{"d":"2015-01-04","c":"XRP","v":13.5},{"d":"2015-01-15","c":"XRP","v":13.3},{"d":"2015-01-24","c":"XRP","v":13.3},{"d":"2015-02-02","c":"XRP","v":12.1},{"d":"2015-02-10","c":"XRP","v":12.2},{"d":"2015-02-24","c":"XRP","v":10.8},{"d":"2015-03-05","c":"XRP","v":9.0},{"d":"2015-03-13","c":"XRP","v":7.6},{"d":"2015-03-27","c":"XRP","v":7.2},{"d":"2015-04-09","c":"XRP","v":6.9},{"d":"2015-04-22","c":"XRP","v":7.0},{"d":"2015-05-05","c":"XRP","v":6.5},{"d":"2015-05-18","c":"XRP","v":5.8},{"d":"2015-05-31","c":"XRP","v":6.9},{"d":"2015-06-13","c":"XRP","v":6.9},{"d":"2015-06-28","c":"XRP","v":8.5},{"d":"2015-07-10","c":"XRP","v":5.4},{"d":"2015-07-23","c":"XRP","v":5.6},{"d":"2015-08-05","c":"XRP","v":6.1},{"d":"2015-08-18","c":"XRP","v":6.1},{"d":"2015-08-31","c":"XRP","v":6.9},{"d":"2015-09-13","c":"XRP","v":6.5},{"d":"2015-09-26","c":"XRP","v":5.1},{"d":"2015-10-09","c":"XRP","v":3.6},{"d":"2015-10-27","c":"XRP","v":2.9},{"d":"2015-11-13","c":"XRP","v":2.4},{"d":"2015-12-01","c":"XRP","v":2.9},{"d":"2015-12-14","c":"XRP","v":4.2},{"d":"2015-12-23","c":"XRP","v":2.9},{"d":"2016-01-09","c":"XRP","v":2.7},{"d":"2016-01-27","c":"XRP","v":2.9},{"d":"2016-02-09","c":"XRP","v":4.3},{"d":"2016-02-22","c":"XRP","v":3.8},{"d":"2016-03-06","c":"XRP","v":3.3},{"d":"2016-03-23","c":"XRP","v":3.4},{"d":"2016-04-10","c":"XRP","v":2.9},{"d":"2016-04-27","c":"XRP","v":2.5},{"d":"2016-05-15","c":"XRP","v":2.2},{"d":"2016-06-02","c":"XRP","v":1.7},{"d":"2016-06-19","c":"XRP","v":1.5},{"d":"2016-07-07","c":"XRP","v":1.8},{"d":"2016-07-24","c":"XRP","v":2.0},{"d":"2016-08-11","c":"XRP","v":1.8},{"d":"2016-08-29","c":"XRP","v":2.0},{"d":"2016-09-15","c":"XRP","v":2.2},{"d":"2016-10-03","c":"XRP","v":2.4},{"d":"2016-10-20","c":"XRP","v":2.5},{"d":"2016-11-07","c":"XRP","v":2.0},{"d":"2016-11-24","c":"XRP","v":1.8},{"d":"2016-12-11","c":"XRP","v":1.7},{"d":"2017-01-03","c":"XRP","v":1.3},{"d":"2017-01-23","c":"XRP","v":1.1},{"d":"2017-02-24","c":"XRP","v":1.2},{"d":"2017-03-25","c":"XRP","v":1.3},{"d":"2017-04-02","c":"XRP","v":8.3},{"d":"2017-04-12","c":"XRP","v":4.7},{"d":"2017-04-23","c":"XRP","v":3.6},{"d":"2017-05-03","c":"XRP","v":6.5},{"d":"2017-05-13","c":"XRP","v":11.9},{"d":"2017-05-21","c":"XRP","v":17.6},{"d":"2017-05-31","c":"XRP","v":12.2},{"d":"2017-06-12","c":"XRP","v":10.1},{"d":"2017-06-26","c":"XRP","v":10.8},{"d":"2017-07-11","c":"XRP","v":9.4},{"d":"2017-07-26","c":"XRP","v":7.2},{"d":"2017-08-10","c":"XRP","v":5.4},{"d":"2017-08-22","c":"XRP","v":4.3},{"d":"2017-09-03","c":"XRP","v":5.2},{"d":"2017-09-18","c":"XRP","v":5.8},{"d":"2017-10-03","c":"XRP","v":5.2},{"d":"2017-10-12","c":"XRP","v":6.9},{"d":"2017-10-22","c":"XRP","v":5.1},{"d":"2017-11-06","c":"XRP","v":4.3},{"d":"2017-11-21","c":"XRP","v":3.6},{"d":"2017-12-05","c":"XRP","v":2.6},{"d":"2017-12-15","c":"XRP","v":1.8},{"d":"2017-12-25","c":"XRP","v":5.1},{"d":"2018-01-02","c":"XRP","v":12.2},{"d":"2018-01-09","c":"XRP","v":15.8},{"d":"2018-01-19","c":"XRP","v":10.1},{"d":"2018-02-01","c":"XRP","v":8.7},{"d":"2018-02-12","c":"XRP","v":9.4},{"d":"2018-02-27","c":"XRP","v":8.5},{"d":"2018-03-14","c":"XRP","v":8.3},{"d":"2018-03-29","c":"XRP","v":7.6},{"d":"2018-04-13","c":"XRP","v":8.0},{"d":"2018-04-25","c":"XRP","v":8.7},{"d":"2018-05-08","c":"XRP","v":7.6},{"d":"2018-05-22","c":"XRP","v":7.2},{"d":"2018-06-06","c":"XRP","v":7.8},{"d":"2018-06-21","c":"XRP","v":7.6},{"d":"2018-07-05","c":"XRP","v":7.2},{"d":"2018-07-20","c":"XRP","v":6.7},{"d":"2018-08-04","c":"XRP","v":6.5},{"d":"2018-08-16","c":"XRP","v":5.8},{"d":"2018-08-28","c":"XRP","v":6.1},{"d":"2018-09-12","c":"XRP","v":5.6},{"d":"2018-09-22","c":"XRP","v":5.4},{"d":"2018-09-27","c":"XRP","v":10.5},{"d":"2018-10-07","c":"XRP","v":9.4},{"d":"2018-10-17","c":"XRP","v":8.7},{"d":"2018-11-01","c":"XRP","v":9.0},{"d":"2018-11-15","c":"XRP","v":10.1},{"d":"2018-11-27","c":"XRP","v":11.7},{"d":"2018-12-14","c":"XRP","v":11.2},{"d":"2019-01-03","c":"XRP","v":11.5},{"d":"2019-01-23","c":"XRP","v":10.8},{"d":"2019-02-11","c":"XRP","v":10.1},{"d":"2019-03-03","c":"XRP","v":9.7},{"d":"2019-03-23","c":"XRP","v":8.7},{"d":"2019-04-11","c":"XRP","v":7.9},{"d":"2019-05-01","c":"XRP","v":6.5},{"d":"2019-05-16","c":"XRP","v":6.1},{"d":"2019-05-31","c":"XRP","v":6.5},{"d":"2019-06-14","c":"XRP","v":6.1},{"d":"2019-06-29","c":"XRP","v":5.4},{"d":"2019-07-14","c":"XRP","v":4.7},{"d":"2019-08-02","c":"XRP","v":4.3},{"d":"2019-08-22","c":"XRP","v":4.3},{"d":"2019-09-10","c":"XRP","v":4.7},{"d":"2019-09-30","c":"XRP","v":5.1},{"d":"2019-10-20","c":"XRP","v":5.6},{"d":"2019-11-08","c":"XRP","v":4.9},{"d":"2019-11-28","c":"XRP","v":4.9},{"d":"2019-12-18","c":"XRP","v":4.5},{"d":"2020-01-07","c":"XRP","v":4.3},{"d":"2020-01-27","c":"XRP","v":4.3},{"d":"2020-02-16","c":"XRP","v":4.3},{"d":"2020-03-06","c":"XRP","v":4.2},{"d":"2020-03-26","c":"XRP","v":4.2},{"d":"2020-04-15","c":"XRP","v":4.0},{"d":"2020-05-05","c":"XRP","v":3.8},{"d":"2020-05-24","c":"XRP","v":3.4},{"d":"2020-06-12","c":"XRP","v":3.6},{"d":"2020-07-02","c":"XRP","v":3.3},{"d":"2020-07-21","c":"XRP","v":3.4},{"d":"2020-08-10","c":"XRP","v":3.6},{"d":"2020-08-30","c":"XRP","v":3.4},{"d":"2020-09-18","c":"XRP","v":3.3},{"d":"2020-10-08","c":"XRP","v":3.4},{"d":"2020-10-28","c":"XRP","v":3.3},{"d":"2020-11-12","c":"XRP","v":3.6},{"d":"2020-11-29","c":"XRP","v":5.1},{"d":"2020-12-11","c":"XRP","v":4.0},{"d":"2020-12-26","c":"XRP","v":1.1},{"d":"2021-01-10","c":"XRP","v":0.9},{"d":"2021-01-29","c":"XRP","v":1.5},{"d":"2021-02-13","c":"XRP","v":1.8},{"d":"2021-02-28","c":"XRP","v":1.3},{"d":"2021-03-15","c":"XRP","v":2.2},{"d":"2021-03-30","c":"XRP","v":1.8},{"d":"2021-04-14","c":"XRP","v":2.6},{"d":"2021-04-28","c":"XRP","v":2.0},{"d":"2021-05-13","c":"XRP","v":2.9},{"d":"2021-05-27","c":"XRP","v":1.3},{"d":"2021-06-01","c":"XRP","v":1.8},

{"d":"2013-12-15","c":"Dogecoin","v":0},{"d":"2013-12-25","c":"Dogecoin","v":0.5},{"d":"2014-01-15","c":"Dogecoin","v":0.8},{"d":"2014-02-05","c":"Dogecoin","v":0.9},{"d":"2014-03-01","c":"Dogecoin","v":0.7},{"d":"2014-04-15","c":"Dogecoin","v":0.5},{"d":"2014-06-01","c":"Dogecoin","v":0.35},{"d":"2014-09-01","c":"Dogecoin","v":0.3},{"d":"2014-12-15","c":"Dogecoin","v":0.4},{"d":"2015-03-01","c":"Dogecoin","v":0.35},{"d":"2015-07-01","c":"Dogecoin","v":0.2},{"d":"2016-01-01","c":"Dogecoin","v":0.2},{"d":"2016-07-01","c":"Dogecoin","v":0.15},{"d":"2017-01-01","c":"Dogecoin","v":0.15},{"d":"2017-07-01","c":"Dogecoin","v":0.15},{"d":"2018-01-10","c":"Dogecoin","v":0.3},{"d":"2018-07-01","c":"Dogecoin","v":0.2},{"d":"2019-07-01","c":"Dogecoin","v":0.15},{"d":"2020-07-01","c":"Dogecoin","v":0.15},{"d":"2021-01-01","c":"Dogecoin","v":0.2},{"d":"2021-01-28","c":"Dogecoin","v":0.8},{"d":"2021-02-08","c":"Dogecoin","v":1.1},{"d":"2021-03-01","c":"Dogecoin","v":0.8},{"d":"2021-04-10","c":"Dogecoin","v":0.9},{"d":"2021-04-18","c":"Dogecoin","v":2.5},{"d":"2021-04-28","c":"Dogecoin","v":2.2},{"d":"2021-05-08","c":"Dogecoin","v":3.8},{"d":"2021-05-18","c":"Dogecoin","v":2.9},{"d":"2021-06-01","c":"Dogecoin","v":3.0},

{"d":"2018-10-01","c":"USD Coin","v":0},{"d":"2018-10-20","c":"USD Coin","v":0.1},{"d":"2019-03-01","c":"USD Coin","v":0.2},{"d":"2019-09-01","c":"USD Coin","v":0.2},{"d":"2020-01-01","c":"USD Coin","v":0.2},{"d":"2020-04-01","c":"USD Coin","v":0.4},{"d":"2020-07-01","c":"USD Coin","v":0.4},{"d":"2020-09-01","c":"USD Coin","v":0.6},{"d":"2020-11-01","c":"USD Coin","v":0.8},{"d":"2020-12-15","c":"USD Coin","v":0.7},{"d":"2021-01-15","c":"USD Coin","v":0.5},{"d":"2021-02-15","c":"USD Coin","v":0.5},{"d":"2021-03-15","c":"USD Coin","v":0.6},{"d":"2021-04-15","c":"USD Coin","v":0.6},{"d":"2021-05-15","c":"USD Coin","v":0.8},{"d":"2021-06-01","c":"USD Coin","v":1.1},

{"d":"2020-09-06","c":"Polkadot","v":0},{"d":"2020-09-08","c":"Polkadot","v":1.3},{"d":"2020-10-15","c":"Polkadot","v":1.1},{"d":"2020-11-15","c":"Polkadot","v":1.2},{"d":"2020-12-15","c":"Polkadot","v":1.3},{"d":"2021-01-15","c":"Polkadot","v":1.4},{"d":"2021-02-10","c":"Polkadot","v":2.6},{"d":"2021-02-25","c":"Polkadot","v":2.3},{"d":"2021-03-15","c":"Polkadot","v":2.4},{"d":"2021-04-10","c":"Polkadot","v":2.0},{"d":"2021-04-25","c":"Polkadot","v":2.2},{"d":"2021-05-15","c":"Polkadot","v":2.2},{"d":"2021-06-01","c":"Polkadot","v":1.6},

{"d":"2013-05-01","c":"Uniswap","v":0},{"d":"2020-09-16","c":"Uniswap","v":0},{"d":"2020-09-20","c":"Uniswap","v":0.4},{"d":"2020-10-15","c":"Uniswap","v":0.2},{"d":"2020-12-01","c":"Uniswap","v":0.3},{"d":"2021-01-15","c":"Uniswap","v":0.5},{"d":"2021-02-10","c":"Uniswap","v":0.8},{"d":"2021-03-01","c":"Uniswap","v":0.9},{"d":"2021-04-01","c":"Uniswap","v":0.8},{"d":"2021-05-05","c":"Uniswap","v":1.0},{"d":"2021-06-01","c":"Uniswap","v":0.9},

{"d":"2013-05-01","c":"Others","v":5.8},{"d":"2013-05-25","c":"Others","v":5.1},{"d":"2013-06-07","c":"Others","v":3.8},{"d":"2013-06-19","c":"Others","v":4.9},{"d":"2013-07-03","c":"Others","v":6.1},{"d":"2013-07-17","c":"Others","v":6.7},{"d":"2013-07-25","c":"Others","v":6.1},{"d":"2013-08-01","c":"Others","v":7.0},{"d":"2013-08-12","c":"Others","v":5.6},{"d":"2013-08-25","c":"Others","v":4.3},{"d":"2013-09-07","c":"Others","v":3.8},{"d":"2013-09-20","c":"Others","v":4.3},{"d":"2013-09-29","c":"Others","v":4.0},{"d":"2013-10-12","c":"Others","v":3.3},{"d":"2013-10-25","c":"Others","v":2.9},{"d":"2013-11-08","c":"Others","v":2.4},{"d":"2013-11-21","c":"Others","v":2.5},{"d":"2013-11-29","c":"Others","v":4.0},{"d":"2013-12-06","c":"Others","v":8.7},{"d":"2013-12-13","c":"Others","v":9.4},{"d":"2013-12-21","c":"Others","v":8.7},{"d":"2014-01-03","c":"Others","v":10.3},{"d":"2014-01-12","c":"Others","v":9.4},{"d":"2014-01-24","c":"Others","v":9.0},{"d":"2014-02-05","c":"Others","v":8.8},{"d":"2014-02-16","c":"Others","v":8.3},{"d":"2014-02-28","c":"Others","v":9.4},{"d":"2014-03-10","c":"Others","v":10.8},{"d":"2014-03-17","c":"Others","v":11.2},{"d":"2014-03-26","c":"Others","v":10.8},{"d":"2014-04-04","c":"Others","v":8.7},{"d":"2014-04-14","c":"Others","v":8.0},{"d":"2014-04-23","c":"Others","v":8.7},{"d":"2014-05-04","c":"Others","v":8.0},{"d":"2014-05-15","c":"Others","v":8.1},{"d":"2014-05-26","c":"Others","v":7.8},{"d":"2014-06-06","c":"Others","v":7.4},{"d":"2014-06-16","c":"Others","v":6.9},{"d":"2014-06-28","c":"Others","v":7.2},{"d":"2014-07-09","c":"Others","v":5.8},{"d":"2014-07-20","c":"Others","v":5.6},{"d":"2014-08-02","c":"Others","v":5.8},{"d":"2014-08-13","c":"Others","v":5.4},{"d":"2014-08-24","c":"Others","v":4.5},{"d":"2014-09-02","c":"Others","v":5.4},{"d":"2014-09-15","c":"Others","v":6.0},{"d":"2014-09-28","c":"Others","v":6.5},{"d":"2014-10-08","c":"Others","v":7.0},{"d":"2014-10-20","c":"Others","v":6.5},{"d":"2014-11-02","c":"Others","v":6.1},{"d":"2014-11-20","c":"Others","v":6.0},{"d":"2014-12-16","c":"Others","v":6.0},{"d":"2014-12-25","c":"Others","v":6.5},{"d":"2015-01-02","c":"Others","v":8.1},{"d":"2015-01-11","c":"Others","v":6.9},{"d":"2015-01-24","c":"Others","v":6.7},{"d":"2015-02-06","c":"Others","v":6.1},{"d":"2015-02-20","c":"Others","v":5.8},{"d":"2015-03-05","c":"Others","v":5.6},{"d":"2015-03-22","c":"Others","v":5.6},{"d":"2015-04-09","c":"Others","v":5.2},{"d":"2015-04-26","c":"Others","v":5.1},{"d":"2015-05-14","c":"Others","v":4.9},{"d":"2015-05-24","c":"Others","v":5.4},{"d":"2015-06-05","c":"Others","v":6.9},{"d":"2015-06-18","c":"Others","v":8.0},{"d":"2015-06-28","c":"Others","v":8.7},{"d":"2015-07-10","c":"Others","v":9.0},{"d":"2015-07-23","c":"Others","v":8.3},{"d":"2015-08-05","c":"Others","v":8.0},{"d":"2015-08-18","c":"Others","v":7.8},{"d":"2015-08-31","c":"Others","v":7.4},{"d":"2015-09-13","c":"Others","v":7.2},{"d":"2015-09-27","c":"Others","v":7.4},{"d":"2015-10-10","c":"Others","v":7.2},{"d":"2015-10-23","c":"Others","v":6.3},{"d":"2015-11-05","c":"Others","v":5.4},{"d":"2015-11-18","c":"Others","v":4.9},{"d":"2015-12-01","c":"Others","v":4.5},{"d":"2015-12-19","c":"Others","v":4.3},{"d":"2016-01-05","c":"Others","v":4.5},{"d":"2016-01-23","c":"Others","v":5.1},{"d":"2016-02-10","c":"Others","v":5.4},{"d":"2016-02-27","c":"Others","v":5.8},{"d":"2016-03-16","c":"Others","v":6.1},{"d":"2016-04-02","c":"Others","v":6.5},{"d":"2016-04-20","c":"Others","v":6.7},{"d":"2016-05-07","c":"Others","v":6.9},{"d":"2016-05-20","c":"Others","v":7.4},{"d":"2016-06-03","c":"Others","v":7.2},{"d":"2016-06-16","c":"Others","v":6.3},{"d":"2016-06-29","c":"Others","v":6.9},{"d":"2016-07-12","c":"Others","v":8.7},{"d":"2016-07-25","c":"Others","v":9.6},{"d":"2016-08-12","c":"Others","v":9.7},{"d":"2016-08-29","c":"Others","v":9.9},{"d":"2016-09-16","c":"Others","v":9.6},{"d":"2016-10-03","c":"Others","v":9.2},{"d":"2016-10-21","c":"Others","v":8.1},{"d":"2016-11-07","c":"Others","v":7.6},{"d":"2016-11-25","c":"Others","v":7.2},{"d":"2016-12-12","c":"Others","v":6.9},{"d":"2016-12-30","c":"Others","v":7.2},{"d":"2017-01-16","c":"Others","v":7.7},{"d":"2017-02-16","c":"Others","v":7.0},{"d":"2017-03-13","c":"Others","v":7.9},{"d":"2017-03-25","c":"Others","v":11.0},{"d":"2017-04-14","c":"Others","v":13.7},{"d":"2017-05-04","c":"Others","v":16.6},{"d":"2017-05-23","c":"Others","v":18.4},{"d":"2017-06-14","c":"Others","v":19.1},{"d":"2017-06-27","c":"Others","v":21.6},{"d":"2017-07-05","c":"Others","v":21.2},{"d":"2017-07-18","c":"Others","v":21.4},{"d":"2017-07-25","c":"Others","v":21.9},{"d":"2017-08-02","c":"Others","v":20.3},{"d":"2017-08-10","c":"Others","v":24.5},{"d":"2017-08-16","c":"Others","v":24.8},{"d":"2017-08-24","c":"Others","v":29.1},{"d":"2017-09-04","c":"Others","v":28.2},{"d":"2017-09-17","c":"Others","v":26.8},{"d":"2017-09-27","c":"Others","v":25.9},{"d":"2017-10-05","c":"Others","v":25.7},{"d":"2017-10-12","c":"Others","v":22.3},{"d":"2017-10-20","c":"Others","v":20.3},{"d":"2017-10-28","c":"Others","v":19.9},{"d":"2017-11-04","c":"Others","v":20.5},{"d":"2017-11-09","c":"Others","v":19.1},{"d":"2017-11-15","c":"Others","v":28.8},{"d":"2017-11-22","c":"Others","v":24.8},{"d":"2017-11-30","c":"Others","v":27.7},{"d":"2017-12-10","c":"Others","v":25.5},{"d":"2017-12-16","c":"Others","v":23.6},{"d":"2017-12-23","c":"Others","v":26.3},{"d":"2017-12-28","c":"Others","v":34.2},{"d":"2018-01-04","c":"Others","v":31.3},{"d":"2018-01-10","c":"Others","v":33.8},{"d":"2018-01-17","c":"Others","v":34.7},{"d":"2018-01-24","c":"Others","v":34.2},{"d":"2018-01-30","c":"Others","v":33.6},{"d":"2018-02-06","c":"Others","v":32.7},{"d":"2018-02-14","c":"Others","v":32.5},{"d":"2018-02-22","c":"Others","v":32.0},{"d":"2018-02-27","c":"Others","v":30.9},{"d":"2018-03-07","c":"Others","v":29.5},{"d":"2018-03-16","c":"Others","v":29.1},{"d":"2018-03-23","c":"Others","v":27.9},{"d":"2018-03-29","c":"Others","v":30.2},{"d":"2018-04-07","c":"Others","v":29.5},{"d":"2018-04-14","c":"Others","v":30.4},{"d":"2018-04-20","c":"Others","v":32.4},{"d":"2018-04-26","c":"Others","v":34.9},{"d":"2018-05-02","c":"Others","v":36.9},{"d":"2018-05-09","c":"Others","v":36.3},{"d":"2018-05-17","c":"Others","v":35.6},{"d":"2018-05-24","c":"Others","v":34.5},{"d":"2018-06-01","c":"Others","v":33.6},{"d":"2018-06-06","c":"Others","v":34.0},{"d":"2018-06-14","c":"Others","v":32.4},{"d":"2018-06-21","c":"Others","v":30.9},{"d":"2018-06-29","c":"Others","v":29.3},{"d":"2018-07-09","c":"Others","v":30.0},{"d":"2018-07-17","c":"Others","v":29.3},{"d":"2018-07-27","c":"Others","v":28.1},{"d":"2018-08-06","c":"Others","v":26.6},{"d":"2018-08-16","c":"Others","v":25.2},{"d":"2018-08-26","c":"Others","v":24.6},{"d":"2018-09-03","c":"Others","v":25.9},{"d":"2018-09-11","c":"Others","v":25.0},{"d":"2018-09-21","c":"Others","v":24.5},{"d":"2018-10-01","c":"Others","v":24.5},{"d":"2018-10-10","c":"Others","v":25.0},{"d":"2018-10-19","c":"Others","v":24.5},{"d":"2018-10-29","c":"Others","v":24.8},{"d":"2018-11-07","c":"Others","v":25.7},{"d":"2018-11-16","c":"Others","v":24.8},{"d":"2018-11-23","c":"Others","v":23.6},{"d":"2018-12-01","c":"Others","v":22.3},{"d":"2018-12-09","c":"Others","v":21.8},{"d":"2018-12-16","c":"Others","v":22.7},{"d":"2018-12-27","c":"Others","v":23.4},{"d":"2019-01-03","c":"Others","v":22.3},{"d":"2019-01-13","c":"Others","v":21.8},{"d":"2019-01-24","c":"Others","v":22.3},{"d":"2019-02-05","c":"Others","v":21.9},{"d":"2019-02-15","c":"Others","v":22.3},{"d":"2019-02-26","c":"Others","v":22.7},{"d":"2019-03-05","c":"Others","v":23.2},{"d":"2019-03-13","c":"Others","v":24.1},{"d":"2019-03-18","c":"Others","v":24.5},{"d":"2019-04-07","c":"Others","v":26.6},{"d":"2019-04-22","c":"Others","v":25.2},{"d":"2019-05-06","c":"Others","v":23.4},{"d":"2019-05-21","c":"Others","v":21.4},{"d":"2019-06-05","c":"Others","v":22.7},{"d":"2019-06-15","c":"Others","v":23.0},{"d":"2019-06-29","c":"Others","v":20.2},{"d":"2019-07-14","c":"Others","v":18.0},{"d":"2019-07-29","c":"Others","v":17.6},{"d":"2019-08-13","c":"Others","v":15.7},{"d":"2019-08-27","c":"Others","v":15.3},{"d":"2019-09-16","c":"Others","v":14.9},{"d":"2019-10-06","c":"Others","v":14.9},{"d":"2019-10-25","c":"Others","v":15.1},{"d":"2019-11-09","c":"Others","v":16.6},{"d":"2019-11-24","c":"Others","v":16.2},{"d":"2019-12-09","c":"Others","v":16.4},{"d":"2019-12-23","c":"Others","v":15.5},{"d":"2020-01-07","c":"Others","v":16.6},{"d":"2020-01-22","c":"Others","v":18.0},{"d":"2020-02-11","c":"Others","v":19.8},{"d":"2020-02-25","c":"Others","v":19.3},{"d":"2020-03-11","c":"Others","v":18.4},{"d":"2020-03-26","c":"Others","v":17.8},{"d":"2020-04-05","c":"Others","v":17.6},{"d":"2020-04-19","c":"Others","v":17.1},{"d":"2020-04-29","c":"Others","v":17.6},{"d":"2020-05-14","c":"Others","v":15.8},{"d":"2020-05-29","c":"Others","v":16.6},{"d":"2020-06-18","c":"Others","v":16.7},{"d":"2020-07-02","c":"Others","v":17.1},{"d":"2020-07-12","c":"Others","v":18.4},{"d":"2020-07-27","c":"Others","v":18.9},{"d":"2020-08-11","c":"Others","v":18.4},{"d":"2020-08-25","c":"Others","v":20.2},{"d":"2020-09-04","c":"Others","v":20.7},{"d":"2020-09-19","c":"Others","v":19.1},{"d":"2020-10-04","c":"Others","v":18.0},{"d":"2020-10-18","c":"Others","v":17.3},{"d":"2020-11-02","c":"Others","v":15.1},{"d":"2020-11-17","c":"Others","v":13.9},{"d":"2020-12-02","c":"Others","v":13.7},{"d":"2020-12-17","c":"Others","v":13.5},{"d":"2020-12-31","c":"Others","v":10.8},{"d":"2021-01-15","c":"Others","v":13.3},{"d":"2021-01-30","c":"Others","v":14.8},{"d":"2021-02-14","c":"Others","v":14.6},{"d":"2021-02-28","c":"Others","v":14.0},{"d":"2021-03-15","c":"Others","v":15.8},{"d":"2021-04-04","c":"Others","v":18.4},{"d":"2021-04-18","c":"Others","v":19.4},{"d":"2021-05-03","c":"Others","v":20.3},{"d":"2021-05-18","c":"Others","v":21.9},{"d":"2021-05-28","c":"Others","v":18.0},{"d":"2021-06-01","c":"Others","v":20.0}
]
},
"vconcat": [
{
  "width": 1934,
  "height": 927,
  "layer": [
    {
      "data": {"name": "mc"},
      "mark": {"type": "area", "fillOpacity": 0.2, "interpolate": "linear"},
      "encoding": {
        "x": {"field": "d", "type": "temporal", "scale": {"type": "utc", "domain": ["2013-05-01", "2021-06-01"]},
              "axis": {"values": [{"year":2013,"month":7,"date":1,"utc":true},{"year":2014,"month":1,"date":1,"utc":true},{"year":2014,"month":7,"date":1,"utc":true},{"year":2015,"month":1,"date":1,"utc":true},{"year":2015,"month":7,"date":1,"utc":true},{"year":2016,"month":1,"date":1,"utc":true},{"year":2016,"month":7,"date":1,"utc":true},{"year":2017,"month":1,"date":1,"utc":true},{"year":2017,"month":7,"date":1,"utc":true},{"year":2018,"month":1,"date":1,"utc":true},{"year":2018,"month":7,"date":1,"utc":true},{"year":2019,"month":1,"date":1,"utc":true},{"year":2019,"month":7,"date":1,"utc":true},{"year":2020,"month":1,"date":1,"utc":true},{"year":2020,"month":7,"date":1,"utc":true},{"year":2021,"month":1,"date":1,"utc":true}],
                "labelExpr": "utcFormat(datum.value, \"%b '%y\")", "title": null, "grid": false,
                "labelFontSize": 21, "labelColor": "#555555", "tickSize": 20, "tickColor": "#ccd6eb", "tickWidth": 1.5,
                "domainColor": "#ccd6eb", "domainWidth": 1.5, "labelPadding": 4, "labelFlush": false, "labelOverlap": false}},
        "y": {"field": "v", "type": "quantitative", "stack": null, "scale": {"domain": [0, 100], "nice": false},
              "axis": {"values": [0, 20, 40, 60, 80], "labelExpr": "datum.value + '%'", "title": null, "grid": true,
                "gridColor": "#e3e0dc", "gridWidth": 1.5, "domain": false, "ticks": false, "labelPadding": 21,
                "labelColor": "#8fb3ea", "labelFontSize": 19}},
        "color": {"field": "c", "type": "nominal",
          "scale": {"domain": ["Bitcoin","Ethereum","Tether","Cardano","Binance Coin","XRP","Dogecoin","USD Coin","Polkadot","Uniswap","Others"],
                    "range": ["#f7931a","#434776","#50af95","#2a62d9","#f3ba2f","#23a8e0","#0c9d48","#f9c733","#0a7ccf","#7b3fc2","#d9d9d9"]},
          "legend": {"orient": "none", "legendX": 177, "legendY": 1166, "direction": "horizontal", "columns": 11, "title": null, "symbolType": "circle",
                     "symbolSize": 320, "symbolStrokeWidth": 0, "symbolOpacity": 1, "labelFontSize": 22, "labelColor": "#5283cc",
                     "labelOffset": 10, "columnPadding": 22,
                     "encode": {"symbols": {"update": {"fillOpacity": {"value": 1}, "opacity": {"value": 1}, "strokeWidth": {"value": 0}}}}},
          "sort": null}
      }
    },
    {
      "data": {"name": "mc"},
      "mark": {"type": "line", "strokeWidth": 3.5, "strokeJoin": "round"},
      "encoding": {
        "x": {"field": "d", "type": "temporal"},
        "y": {"field": "v", "type": "quantitative"},
        "color": {"field": "c", "type": "nominal", "sort": null}
      }
    },
    {
      "data": {"values": [{"label": "Market capitalisation"}]},
      "mark": {"type": "text", "font": "Liberation Serif", "fontSize": 47, "align": "right", "baseline": "alphabetic", "color": "#000000"},
      "encoding": {
        "x": {"datum": {"year": 2021, "month": 3, "date": 22, "utc": true}, "type": "temporal"},
        "y": {"datum": 92.9, "type": "quantitative"},
        "text": {"field": "label"}
      }
    }
  ]
},
{
  "width": 1934,
  "height": 90,
  "view": {"fill": "#d8deee", "stroke": "#c4cbd9", "strokeWidth": 1.5},
  "data": {"name": "mc"},
  "transform": [{"filter": "datum.c === 'Bitcoin'"}],
  "mark": {"type": "line", "strokeWidth": 2, "color": "#d38f50"},
  "encoding": {
    "x": {"field": "d", "type": "temporal", "scale": {"type": "utc", "domain": ["2013-05-01", "2021-06-01"]},
          "axis": {"values": [{"year":2014,"month":1,"date":1,"utc":true},{"year":2015,"month":1,"date":1,"utc":true},{"year":2016,"month":1,"date":1,"utc":true},{"year":2017,"month":1,"date":1,"utc":true},{"year":2018,"month":1,"date":1,"utc":true},{"year":2019,"month":1,"date":1,"utc":true},{"year":2020,"month":1,"date":1,"utc":true},{"year":2021,"month":1,"date":1,"utc":true}],
            "labelExpr": "utcFormat(datum.value, '%Y')", "title": null, "grid": true, "gridColor": "#c4cbdb", "gridWidth": 1.2,
            "ticks": false, "tickSize": 0, "domain": false, "labelAlign": "left", "labelBaseline": "alphabetic",
            "labelPadding": -9, "labelOffset": 6, "labelColor": "#8d8f9c", "labelFontSize": 21, "labelFlush": false, "labelOverlap": false}},
    "y": {"field": "v", "type": "quantitative", "scale": {"domain": [23, 105], "nice": false}, "axis": null}
  }
}
],
"spacing": 61
}
